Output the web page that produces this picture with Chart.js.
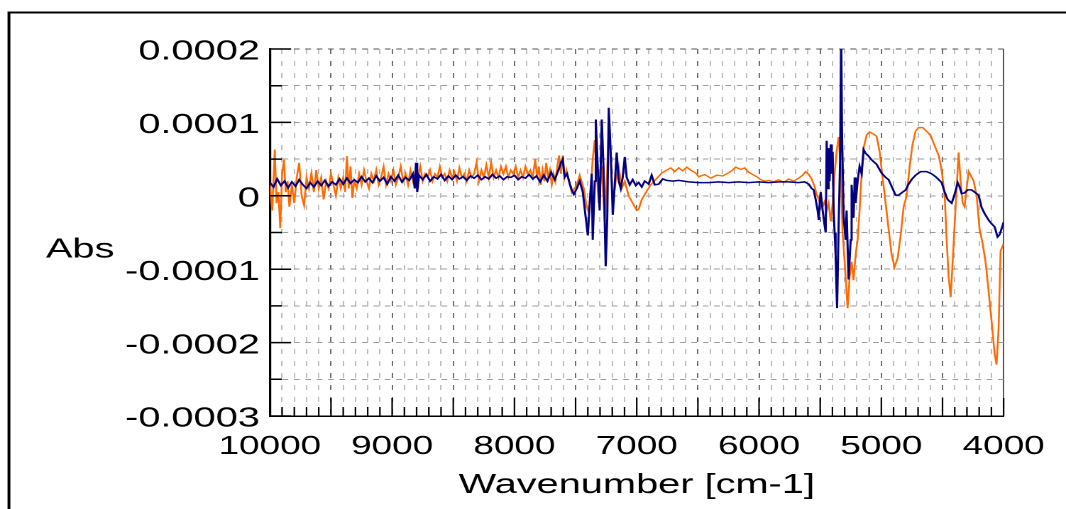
<!DOCTYPE html>
<html>
<head>
<meta charset="utf-8">
<script src="https://cdn.jsdelivr.net/npm/chart.js@4.4.1/dist/chart.umd.min.js"></script>
<style>
  html, body { margin: 0; padding: 0; background: #fff; overflow: hidden; }
  /* the original picture is stretched sideways, so the chart is drawn narrow and widened */
  #stage { width: 751px; height: 509px; transform: scaleX(1.4194); transform-origin: 0 0; }
  #chart { width: 751px; height: 509px; }
</style>
</head>
<body>
<div id="stage"><canvas id="chart" width="751" height="509"></canvas></div>
<script>
// absorbance values below are in units of 1e-5 Abs
const ABS_UNIT = 1e-5;

const orangeWn = [
  10000, 9980, 9960, 9945, 9930, 9915, 9900, 9885, 9870, 9855,
  9840, 9820, 9800, 9780, 9760, 9740, 9720, 9700, 9680, 9660,
  9640, 9620, 9600, 9580, 9560, 9540, 9520, 9500, 9480, 9460,
  9440, 9420, 9400, 9385, 9370, 9355, 9340, 9325, 9310, 9290,
  9270, 9250, 9230, 9210, 9190, 9170, 9150, 9130, 9110, 9090,
  9070, 9050, 9030, 9010, 8990, 8970, 8950, 8930, 8910, 8890,
  8870, 8850, 8830, 8810, 8790, 8770, 8750, 8730, 8710, 8690,
  8670, 8650, 8630, 8610, 8590, 8570, 8550, 8530, 8510, 8490,
  8470, 8450, 8430, 8410, 8390, 8370, 8350, 8330, 8310, 8290,
  8270, 8250, 8230, 8210, 8190, 8170, 8150, 8130, 8110, 8090,
  8070, 8050, 8030, 8010, 7990, 7970, 7950, 7930, 7910, 7890,
  7870, 7850, 7830, 7815, 7800, 7785, 7770, 7755, 7740, 7725,
  7710, 7695, 7680, 7665, 7650, 7635, 7620, 7605, 7590, 7575,
  7531, 7490, 7466, 7433, 7409, 7392, 7376, 7360, 7343, 7327,
  7311, 7286, 7262, 7245, 7229, 7213, 7196, 7172, 7147, 7123,
  7098, 7066, 7033, 7000, 6984, 6959, 6927, 6886, 6845, 6796,
  6755, 6722, 6690, 6657, 6624, 6591, 6559, 6518, 6493, 6444,
  6395, 6346, 6297, 6264, 6224, 6191, 6150, 6117, 6085, 6052,
  6019, 5986, 5954, 5921, 5880, 5839, 5799, 5758, 5717, 5676,
  5643, 5619, 5594, 5570, 5545, 5529, 5512, 5496, 5480, 5464,
  5447, 5431, 5414, 5398, 5382, 5366, 5349, 5333, 5317, 5300,
  5276, 5259, 5243, 5227, 5210, 5194, 5178, 5161, 5145, 5120,
  5096, 5063, 5039, 5014, 4990, 4965, 4941, 4916, 4892, 4867,
  4843, 4818, 4793, 4769, 4745, 4720, 4695, 4663, 4630, 4597,
  4564, 4531, 4507, 4482, 4466, 4450, 4433, 4417, 4401, 4384,
  4368, 4352, 4335, 4319, 4303, 4286, 4270, 4245, 4221, 4197,
  4172, 4148, 4123, 4099, 4074, 4058, 4041, 4025, 4000
];
const orangeAbs = [
  1.5, -2, 6.3, -1, 0.5, -4.4, 3, 4.9, 0.5, 2,
  -1.5, 1.5, -1, 2.5, 4.5, 0, -1.3, 2.5, 1, 3.1,
  0.5, 3.5, 1, 2.5, -0.5, 2, 1, 3, 1.5, 0,
  2.5, 1, 2.5, 0.5, 5.4, 1, 4, -0.3, 2, 1,
  3, 1.5, 3.5, 2, 1, 3, 2, 3.5, 1.5, 2.5,
  4, 1.5, 3, 2, 3.5, 1.5, 2.5, 4, 2, 3,
  1.5, 3.5, 2, 3, 2.5, 4, 2, 3, 2.5, 3.5,
  2, 3, 2.5, 4, 2.5, 3, 2, 3.5, 2.5, 3.2,
  2, 3.8, 2.5, 3, 2, 3.5, 2.5, 3, 4.5, 2,
  3.5, 2.5, 4.2, 2.5, 4.5, 2.5, 3.5, 2.5, 4, 3,
  4, 2.5, 3.5, 3, 4, 2.5, 3.5, 2.5, 4, 3,
  3.5, 2.5, 5, 2.5, 4, 1.5, 3.5, 2, 4.5, 2.5,
  3.5, 1.5, 3, 2, 4, 5.5, 3, 5.5, 2.5, 3.5,
  0.4, 1.5, 2.8, 1, -1.5, -2.3, 1, 5, 7.6, 3,
  -1, 4, -3.5, 2, 9, 5, -1, 2, 4, 1,
  2, 0, -1, -2, -1.8, -0.5, 0.4, 1.5, 2.2, 3.1,
  3.5, 3.8, 3.3, 3.8, 3.4, 3.9, 3.5, 3.1, 2.6, 2.9,
  2.4, 2.8, 2.7, 3.0, 3.4, 3.9, 3.6, 3.8, 3.2, 2.9,
  2.6, 2.2, 2.0, 2.1, 1.9, 2.2, 1.8, 2.3, 2.0, 2.4,
  2.8, 3.3, 2.9, 2.3, 1.2, 0.2, -0.5, 0.3, -1.5, -0.8,
  -2, -1, -3.5, -1, 3, 6, 8, 4, -5, -9,
  -15.3, -11, -9, -11.5, -8, -6, -2, 3, 6.5, 8.3,
  8.7, 8.4, 8.1, 6, 2.5, -1, -4.5, -8, -9.7, -8.5,
  -5.5, -1.5, 0, 4, 7, 8.8, 9.3, 9.3, 8.8, 8.2,
  6.8, 5.5, 3.5, 0, -6, -11, -13.8, -9, -4, 1,
  5.9, 2, -1, -1.5, 1, 3.3, 2.8, 2, 0, -4.5,
  -6.5, -9, -13, -17, -21.5, -23, -18, -7.5, -6.5
];

const blueWn = [
  10000, 9970, 9940, 9910, 9880, 9850, 9820, 9790, 9760, 9730,
  9700, 9670, 9640, 9610, 9580, 9550, 9520, 9490, 9460, 9430,
  9400, 9370, 9340, 9310, 9280, 9250, 9220, 9190, 9160, 9130,
  9100, 9070, 9040, 9010, 8980, 8950, 8920, 8890, 8860, 8830,
  8815, 8805, 8795, 8780, 8750, 8720, 8690, 8660, 8630, 8600,
  8570, 8540, 8510, 8480, 8450, 8420, 8390, 8360, 8330, 8300,
  8270, 8240, 8210, 8180, 8150, 8120, 8090, 8060, 8030, 8000,
  7970, 7940, 7910, 7880, 7850, 7820, 7790, 7760, 7730, 7700,
  7670, 7640, 7620, 7605, 7590, 7570, 7545,
  7531, 7514, 7490, 7466, 7441, 7417, 7400, 7384, 7368, 7360,
  7343, 7335, 7319, 7303, 7286, 7270, 7254, 7241, 7229, 7213,
  7196, 7180, 7164, 7147, 7131, 7115, 7098, 7082, 7057, 7033,
  7008, 6984, 6959, 6935, 6902, 6878, 6853, 6820, 6788, 6755,
  6706, 6657, 6575, 6493, 6411, 6330, 6248, 6166, 6085, 6003,
  5921, 5839, 5758, 5676, 5627, 5594, 5570, 5553, 5537, 5521,
  5512, 5504, 5496, 5480, 5464, 5455, 5447, 5439, 5431, 5423,
  5414, 5406, 5398, 5390, 5382, 5374, 5362, 5349, 5337, 5329,
  5321, 5308, 5292, 5284, 5268, 5251, 5243, 5227, 5218, 5210,
  5194, 5178, 5161, 5145, 5129, 5104, 5080, 5039, 4998, 4965,
  4941, 4908, 4884, 4859, 4826, 4801, 4777, 4753, 4720, 4679,
  4630, 4589, 4556, 4531, 4507, 4482, 4458, 4425, 4401, 4376,
  4360, 4343, 4319, 4294, 4262, 4229, 4205, 4180, 4156, 4123,
  4099, 4074, 4050, 4033, 4017, 4000
];
const blueAbs = [
  1.8, 1.2, 2.3, 1.4, 2.0, 1.1, 1.9, 1.3, 2.2, 1.5,
  1.0, 1.8, 1.2, 2.0, 1.4, 2.1, 1.3, 1.9, 1.5, 2.3,
  1.6, 2.4, 1.7, 2.2, 1.8, 2.6, 1.9, 2.4, 1.8, 2.7,
  2.0, 2.5, 1.6, 2.6, 2.0, 2.8, 1.9, 2.5, 2.1, 3.0,
  1.0, 4.5, 0.5, 2.8, 2.2, 2.9, 2.0, 2.6, 2.3, 2.9,
  2.1, 2.7, 2.2, 2.8, 2.3, 2.6, 2.1, 2.7, 2.4, 2.8,
  2.2, 2.6, 2.3, 2.9, 2.4, 2.7, 2.2, 2.6, 2.5, 2.8,
  2.2, 2.6, 2.4, 2.9, 2.3, 2.7, 1.9, 2.8, 2.0, 3.2,
  2.2, 3.5, 4.5, 5.0, 2.5, 3.0, 1.5,
  0.8, 0.2, 1.0, 2.0, 0.5, -3, -5.4, -1, 3, -6,
  2, 10.4, 4, -2, 10.4, 3, -9.6, -3, 12, 6,
  -2.6, 1.5, 5.9, 2, 1, 2.5, 5.3, 2.5, 1.5, 2.2,
  1.4, 1.8, 1.2, 2.0, 1.6, 2.8, 1.5, 1.6, 2.3, 2.1,
  2.0, 2.1, 1.9, 1.8, 1.8, 1.9, 1.8, 1.9, 1.8, 1.9,
  1.8, 1.9, 1.9, 1.8, 1.9, 1.6, 1.0, 0.8, -0.5, -2,
  -3.3, -1, 0.5, -2, -4, -5, 7.5, 1, 6.5, 2,
  7, 3, 6, -2, -5, -8, -15.3, -4, 5, 22,
  8, -3, -6, -2, -11.4, -6, 1.5, -3, 2.5, -1,
  2, 4, 3, 6.3, 5.8, 5.4, 4.9, 4.3, 3.1, 2.5,
  2.2, 1.0, 0.1, 0.1, 0.5, 0.8, 1.6, 2.2, 2.8, 3.3,
  3.3, 3.0, 2.6, 2.2, 1.8, 0.5, -0.5, -1.0, 0.2, 1.8,
  1.2, 0.3, 0.4, 0.8, 0.8, 0.4, 0.1, -1.6, -2.4, -3.3,
  -3.8, -4.2, -5.6, -5.3, -4.5, -3.6
];

// axis settings
const X_MIN = 4000, X_MAX = 10000, X_STEP = 100, X_LABEL_STEP = 1000, X_MAJOR = 500;
const Y_MIN = -0.0003, Y_MAX = 0.0002, Y_STEP = 0.00005;

const FONT = "'Liberation Sans', Arial, sans-serif";

const toPoints = (wn, abs) => wn.map((w, i) => ({ x: w, y: abs[i] * ABS_UNIT }));
const isMajorY = v => Math.round(v / Y_STEP) % 2 === 0;

// frame, "Abs" label and the inward tick marks
const decorations = {
    id: 'decorations',
    afterDraw(chart) {
        const { ctx, chartArea: a, scales: { x, y } } = chart;
        ctx.save();

        ctx.strokeStyle = '#000';
        ctx.lineWidth = 1.1;
        ctx.beginPath();
        x.ticks.forEach(t => {
            const px = x.getPixelForValue(t.value);
            const len = t.value % X_MAJOR === 0 ? 18 : 9;
            ctx.moveTo(px, a.bottom);
            ctx.lineTo(px, a.bottom - len);
        });
        ctx.stroke();

        ctx.lineWidth = 1.5;
        ctx.beginPath();
        y.ticks.forEach(t => {
            const py = y.getPixelForValue(t.value);
            const len = isMajorY(t.value) ? 15 : 8.5;
            ctx.moveTo(a.left, py);
            ctx.lineTo(a.left + len, py);
        });
        ctx.stroke();

        ctx.lineWidth = 2;
        ctx.strokeRect(6.3, 12.5, chart.width + 20, chart.height + 20);

        ctx.fillStyle = '#000';
        ctx.font = '28px ' + FONT;
        ctx.textAlign = 'center';
        ctx.textBaseline = 'middle';
        ctx.fillText('Abs', 56.5, 250);
        ctx.restore();
    }
};

new Chart(document.getElementById('chart'), {
    type: 'line',
    data: {
        datasets: [
            {
                label: 'blue',
                data: toPoints(blueWn, blueAbs),
                borderColor: '#000080',
                borderWidth: 1.5,
                pointRadius: 0,
                tension: 0
            },
            {
                label: 'orange',
                data: toPoints(orangeWn, orangeAbs),
                borderColor: '#ff6a00',
                borderWidth: 1.3,
                pointRadius: 0,
                tension: 0
            }
        ]
    },
    options: {
        responsive: false,
        animation: false,
        devicePixelRatio: 2,
        layout: { padding: { top: 49, right: 43.3, bottom: 0, left: 0 } },
        plugins: {
            legend: { display: false },
            tooltip: { enabled: false }
        },
        scales: {
            x: {
                type: 'linear',
                reverse: true,
                min: X_MIN,
                max: X_MAX,
                afterFit: s => { s.height = 93; },
                ticks: {
                    stepSize: X_STEP,
                    maxTicksLimit: 100,
                    autoSkip: false,
                    maxRotation: 0,
                    minRotation: 0,
                    padding: 15,
                    color: '#000',
                    font: { family: FONT, size: 26 },
                    callback: v => (v % X_LABEL_STEP === 0 ? String(v) : '')
                },
                grid: {
                    drawTicks: false,
                    lineWidth: 1,
                    color: c => {
                        const v = c.tick ? c.tick.value : 0;
                        if (v === X_MIN) return '#555';
                        return v % X_MAJOR === 0 ? '#6e6e6e' : '#bdbdbd';
                    }
                },
                border: {
                    display: true,
                    color: '#000',
                    width: 1.5,
                    dash: c => (c.tick && c.tick.value === X_MIN ? [] : [5, 7])
                },
                title: {
                    display: true,
                    text: 'Wavenumber [cm-1]',
                    color: '#000',
                    font: { family: FONT, size: 28 },
                    padding: { top: 0, bottom: 7 }
                }
            },
            y: {
                min: Y_MIN,
                max: Y_MAX,
                afterFit: s => { s.width = 190.1; },
                ticks: {
                    stepSize: Y_STEP,
                    maxTicksLimit: 20,
                    padding: 7,
                    labelOffset: 3,
                    color: '#000',
                    font: { family: FONT, size: 28 },
                    callback: v => (isMajorY(v) ? String(Math.round(v * 1e4) / 1e4) : '')
                },
                grid: {
                    drawTicks: false,
                    lineWidth: 1,
                    color: c => (c.tick && Math.abs(c.tick.value - Y_MAX) < 1e-9 ? '#555' : '#9c9c9c')
                },
                border: {
                    display: true,
                    color: '#000',
                    width: 1.6,
                    dash: [4, 4]
                }
            }
        }
    },
    plugins: [decorations]
});
</script>
</body>
</html>
